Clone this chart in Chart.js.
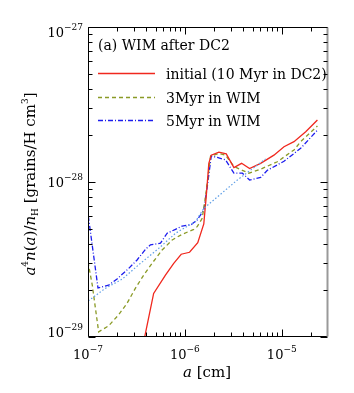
<!DOCTYPE html>
<html>
<head>
<meta charset="utf-8">
<script src="https://cdn.jsdelivr.net/npm/chart.js@4"></script>
<style>
  html, body { margin: 0; padding: 0; background: #fff; }
  #wrap { width: 354px; height: 393px; }
</style>
</head>
<body>
<div id="wrap"><canvas id="sizeChart" width="354" height="393"></canvas></div>
<script>
// grain radius a [cm] and a^4 n(a)/n_H [grains/H cm^3]
const initialA = [3.7e-7, 4.76e-7, 6.3e-7, 7.67e-7, 9.16e-7, 1.117e-6, 1.358e-6, 1.567e-6, 1.66e-6, 1.766e-6, 1.871e-6, 2.244e-6, 2.673e-6, 3.206e-6, 3.846e-6, 4.656e-6, 6.05e-6, 8.3e-6, 1.054e-5, 1.337e-5, 1.766e-5, 2.333e-5];
const initialV = [8.9e-30, 1.91e-29, 2.51e-29, 2.99e-29, 3.42e-29, 3.52e-29, 4.06e-29, 5.36e-29, 8.04e-29, 1.32e-28, 1.49e-28, 1.56e-28, 1.52e-28, 1.24e-28, 1.32e-28, 1.22e-28, 1.32e-28, 1.49e-28, 1.69e-28, 1.82e-28, 2.11e-28, 2.51e-28];

const wim3A = [1.0e-7, 1.107e-7, 1.288e-7, 1.633e-7, 2.07e-7, 2.53e-7, 3.08e-7, 3.76e-7, 4.59e-7, 5.82e-7, 7.4e-7, 9.38e-7, 1.236e-6, 1.34e-6, 1.51e-6, 1.633e-6, 1.841e-6, 2.244e-6, 2.63e-6, 3.206e-6, 3.92e-6, 4.58e-6, 6.05e-6, 8.99e-6, 1.337e-5, 1.567e-5, 2.333e-5];
const wim3V = [3.05e-29, 2.16e-29, 1.08e-29, 1.18e-29, 1.39e-29, 1.65e-29, 2.06e-29, 2.51e-29, 2.99e-29, 3.64e-29, 4.23e-29, 4.6e-29, 4.95e-29, 5.15e-29, 5.83e-29, 8.04e-29, 1.47e-28, 1.53e-28, 1.49e-28, 1.26e-28, 1.19e-28, 1.14e-28, 1.21e-28, 1.35e-28, 1.61e-28, 1.82e-28, 2.3e-28];

const wim5A = [1.007e-7, 1.268e-7, 1.633e-7, 1.995e-7, 2.63e-7, 3.21e-7, 3.92e-7, 4.41e-7, 5.6e-7, 6.56e-7, 8.0e-7, 9.38e-7, 1.169e-6, 1.34e-6, 1.567e-6, 1.702e-6, 1.871e-6, 2.158e-6, 2.63e-6, 3.206e-6, 3.92e-6, 4.656e-6, 6.05e-6, 7.1e-6, 1.054e-5, 1.567e-5, 2.333e-5];
const wim5V = [6.04e-29, 2.07e-29, 2.16e-29, 2.37e-29, 2.77e-29, 3.14e-29, 3.68e-29, 3.93e-29, 4.03e-29, 4.67e-29, 4.95e-29, 5.2e-29, 5.32e-29, 5.69e-29, 6.59e-29, 9.33e-29, 1.47e-28, 1.44e-28, 1.39e-28, 1.14e-28, 1.14e-28, 1.03e-28, 1.07e-28, 1.19e-28, 1.36e-28, 1.65e-28, 2.16e-28];

// dotted reference curve
const refA = [1.007e-7, 1.51e-7, 2.25e-7, 3.33e-7, 5.37e-7, 8.0e-7, 1.288e-6, 1.567e-6, 3.48e-6, 6.82e-6];
const refV = [1.71e-29, 2.06e-29, 2.36e-29, 2.92e-29, 3.73e-29, 4.67e-29, 5.55e-29, 6.76e-29, 1.03e-28, 1.41e-28];

const seriesNames = ["initial (10 Myr in DC2)", "3Myr in WIM", "5Myr in WIM"];
const xTickExps = [-7, -6, -5];
const yTickExps = [-29, -28, -27];

const serif = '"DejaVu Serif", serif';
const red = "#f0281e";
const olive = "#8a9a26";
const blue = "#1c1cee";
const lightBlue = "#5f9fe6";

function pts(xs, ys) {
  return xs.map((x, i) => ({ x: x, y: ys[i] }));
}

function drawParts(ctx, parts, x, y, align) {
  let w = 0;
  parts.forEach(p => { ctx.font = p.f; w += ctx.measureText(p.t).width; });
  let cx = align === "center" ? x - w / 2 : align === "right" ? x - w : x;
  parts.forEach(p => {
    ctx.font = p.f;
    ctx.fillText(p.t, cx, y + (p.dy || 0));
    cx += ctx.measureText(p.t).width;
  });
}

function powerLabel(e) {
  return [
    { t: "10", f: "13px " + serif },
    { t: "\u2212" + Math.abs(e), f: "9px " + serif, dy: -7 }
  ];
}

const frame = {
  id: "frame",
  afterDraw(chart) {
    const ctx = chart.ctx;
    const area = chart.chartArea;
    const xs = chart.scales.x;
    const ys = chart.scales.y;
    const L = Math.round(area.left) + 0.5, R = Math.round(area.right) - 0.5;
    const T = Math.round(area.top) + 0.5, B = Math.round(area.bottom) - 0.5;
    ctx.save();

    // box
    ctx.lineWidth = 1;
    ctx.strokeStyle = "#000";
    ctx.beginPath();
    ctx.moveTo(R, T); ctx.lineTo(L, T); ctx.lineTo(L, B); ctx.lineTo(R, B);
    ctx.stroke();
    ctx.strokeStyle = "#999";
    ctx.lineWidth = 2;
    ctx.beginPath();
    ctx.moveTo(R, T); ctx.lineTo(R, B);
    ctx.stroke();

    // inward ticks
    ctx.strokeStyle = "#000";
    ctx.lineWidth = 1;
    ctx.beginPath();
    for (let d = -7; d <= -5; d++) {
      for (let m = 1; m <= 9; m++) {
        const v = m * Math.pow(10, d);
        if (v < xs.min || v > xs.max) continue;
        const px = Math.round(xs.getPixelForValue(v)) + 0.5;
        const len = m === 1 ? 7 : 4;
        ctx.moveTo(px, B); ctx.lineTo(px, B - len);
        ctx.moveTo(px, T); ctx.lineTo(px, T + len);
      }
    }
    for (let d = -29; d <= -27; d++) {
      for (let m = 1; m <= 9; m++) {
        const v = m * Math.pow(10, d);
        if (v < ys.min * 0.999 || v > ys.max * 1.001) continue;
        const py = Math.round(ys.getPixelForValue(v)) + 0.5;
        const len = m === 1 ? 7 : 4;
        ctx.moveTo(L, py); ctx.lineTo(L + len, py);
        ctx.moveTo(R, py); ctx.lineTo(R - len, py);
      }
    }
    ctx.stroke();

    // tick labels
    ctx.fillStyle = "#000";
    ctx.textAlign = "left";
    ctx.textBaseline = "alphabetic";
    xTickExps.forEach(e => {
      drawParts(ctx, powerLabel(e), xs.getPixelForValue(Math.pow(10, e)), 358.5, "center");
    });
    yTickExps.forEach(e => {
      let base = ys.getPixelForValue(Math.pow(10, e)) + 5;
      base = Math.min(Math.max(base, area.top + 10), area.bottom);
      drawParts(ctx, powerLabel(e), 83, base, "right");
    });

    // axis titles
    const it = "italic 15px " + serif, rm = "15px " + serif, sm = "9px " + serif;
    drawParts(ctx, [{ t: "a", f: it }, { t: " [cm]", f: rm }], 207, 377, "center");
    ctx.translate(35, 184);
    ctx.rotate(-Math.PI / 2);
    drawParts(ctx, [
      { t: "a", f: it }, { t: "4", f: sm, dy: -7 },
      { t: "n", f: it }, { t: "(", f: rm }, { t: "a", f: it }, { t: ")/", f: rm },
      { t: "n", f: it }, { t: "H", f: sm, dy: 3 },
      { t: " [grains/H cm", f: rm }, { t: "3", f: sm, dy: -7 }, { t: "]", f: rm }
    ], 0, 0, "center");
    ctx.restore();

    // panel title and legend inside the plot
    ctx.save();
    ctx.fillStyle = "#000";
    ctx.font = "14px " + serif;
    ctx.fillText("(a) WIM after DC2", 98, 50);
    const rows = [
      { y: 73.5, c: red, dash: [] },
      { y: 97.5, c: olive, dash: [4, 3] },
      { y: 120.5, c: blue, dash: [5, 2, 1, 2] }
    ];
    rows.forEach((r, i) => {
      ctx.strokeStyle = r.c;
      ctx.lineWidth = 1.3;
      ctx.setLineDash(r.dash);
      ctx.beginPath();
      ctx.moveTo(98, r.y); ctx.lineTo(155, r.y);
      ctx.stroke();
      ctx.fillText(seriesNames[i], 166, r.y + 5);
    });
    ctx.restore();
  }
};

const ctx = document.getElementById("sizeChart").getContext("2d");

const sizeChart = new Chart(ctx, {
  type: "line",
  data: {
    datasets: [
      {
        label: "reference",
        data: pts(refA, refV),
        borderColor: lightBlue,
        borderWidth: 1.2,
        borderDash: [1.5, 2],
        pointRadius: 0,
        fill: false,
      },
      {
        label: seriesNames[0],
        data: pts(initialA, initialV),
        borderColor: red,
        borderWidth: 1.3,
        pointRadius: 0,
        fill: false,
      },
      {
        label: seriesNames[1],
        data: pts(wim3A, wim3V),
        borderColor: olive,
        borderWidth: 1.3,
        borderDash: [4, 3],
        pointRadius: 0,
        fill: false,
      },
      {
        label: seriesNames[2],
        data: pts(wim5A, wim5V),
        borderColor: blue,
        borderWidth: 1.3,
        borderDash: [5, 2, 1, 2],
        pointRadius: 0,
        fill: false,
      },
    ],
  },
  options: {
    responsive: false,
    animation: false,
    layout: {
      padding: { left: 88, right: 26, top: 27, bottom: 56 },
    },
    plugins: {
      legend: { display: false },
      tooltip: { enabled: false },
    },
    scales: {
      x: {
        type: "logarithmic",
        min: 1e-7,
        max: 3e-5,
        display: false,
      },
      y: {
        type: "logarithmic",
        min: 1e-29,
        max: 1e-27,
        display: false,
      },
    },
  },
  plugins: [frame],
});
</script>
</body>
</html>
